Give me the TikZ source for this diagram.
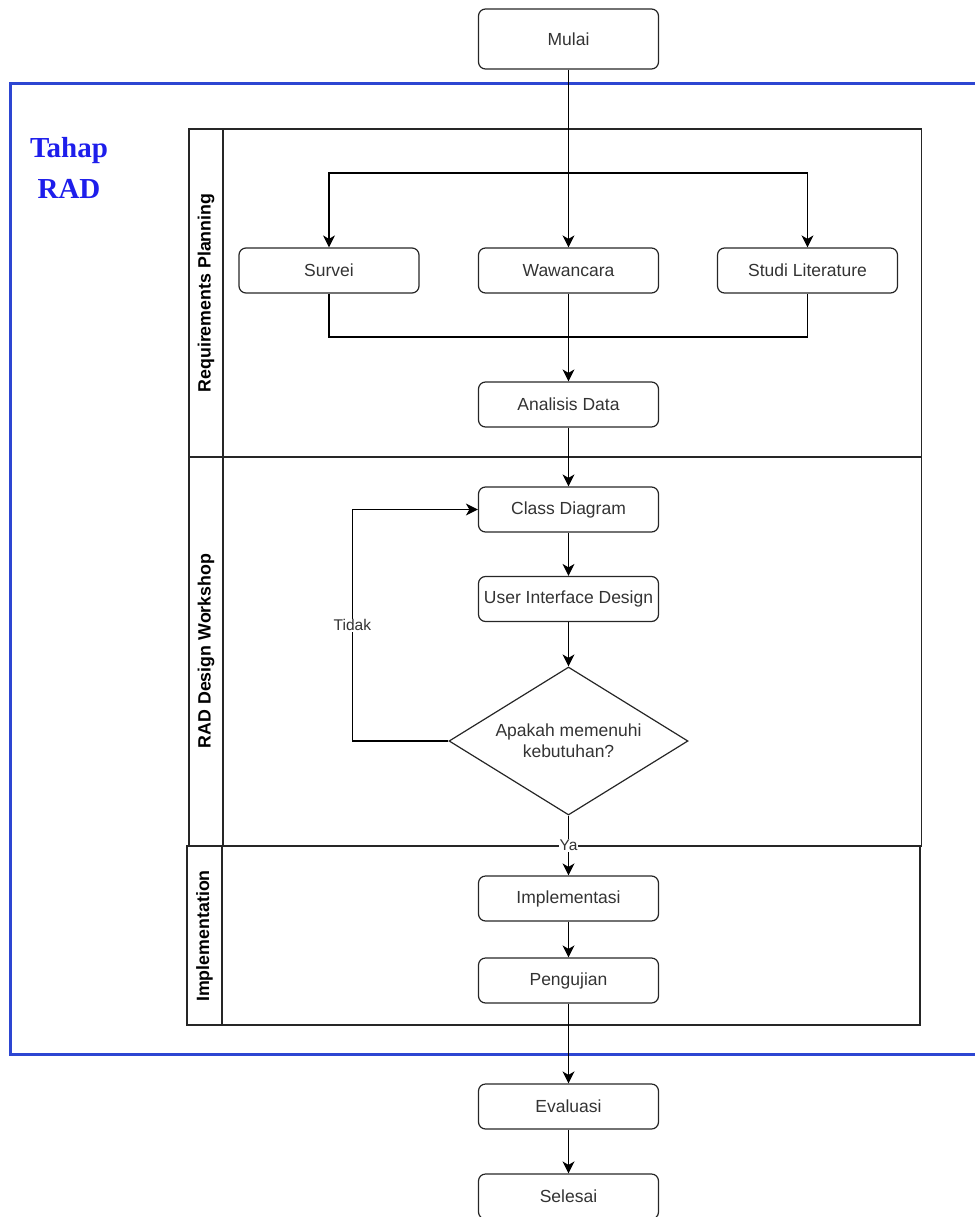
\documentclass[tikz,border=0pt]{standalone}
\usepackage{fontspec}
\setmainfont{Liberation Sans}
\newfontfamily\timesfont{Liberation Serif}
\usetikzlibrary{arrows.meta,shapes.geometric}
\definecolor{txt}{RGB}{51,51,51}
\definecolor{frameblue}{RGB}{45,70,210}
\definecolor{titleblue}{RGB}{30,30,235}
\begin{document}
\begin{tikzpicture}[x=1pt,y=-1pt,
  box/.style={draw=black!85, line width=1.2pt, rounded corners=7pt, minimum width=180pt, minimum height=45pt, inner sep=0pt, font=\fontsize{17.5}{21}\selectfont, text=txt},
  dec/.style={draw=black!85, line width=1.2pt, shape=diamond, aspect=1.615, minimum width=239pt, minimum height=148pt, inner sep=0pt, align=center, font=\fontsize{17.5}{21}\selectfont, text=txt},
  arr/.style={-{Stealth[length=12pt,width=12pt,inset=3.5pt]}, line width=1.3pt},
  ln/.style={line width=1.3pt},
  lane/.style={draw=black!85, line width=1.3pt},
  lanelabel/.style={rotate=90, font=\bfseries\fontsize{17.8}{20}\selectfont, text=black},
  elabel/.style={fill=white, inner sep=1pt, font=\fontsize{15.5}{18}\selectfont, text=txt},
  blueframe/.style={draw=frameblue, line width=3pt}]
\useasboundingbox (0,0) rectangle (974,1217);

% blue frame
\draw[blueframe] (990,84) -- (10,84) -- (10,1054) -- (990,1054);
\node[font=\timesfont\bfseries\fontsize{29}{41}\selectfont, text=titleblue, align=center] (title) at (69,168) {Tahap\\RAD};

% pools / lanes
\draw[lane] (189,129) rectangle (921.5,846);
\draw[lane] (223,129) -- (223,846);
\draw[lane] (189,457) -- (921.5,457);
\draw[lane] (187,846) rectangle (920,1025);
\draw[lane] (222,846) -- (222,1025);
\node[lanelabel] (l1) at (206,293) {Requirements Planning};
\node[lanelabel] (l2) at (206,651) {RAD Design Workshop};
\node[lanelabel] (l3) at (204.5,936) {Implementation};

% nodes
\node[box, minimum height=60pt] (mulai) at (568.5,39) {Mulai};
\node[box] (survei) at (329,270.5) {Survei};
\node[box] (waw) at (568.5,270.5) {Wawancara};
\node[box] (studi) at (807.5,270.5) {Studi Literature};
\node[box] (analisis) at (568.5,404.5) {Analisis Data};
\node[box] (cd) at (568.5,509.5) {Class Diagram};
\node[box] (ui) at (568.5,599) {User Interface Design};
\node[dec] (d) at (568.5,741) {Apakah memenuhi\\kebutuhan?};
\node[box] (impl) at (568.5,898.5) {Implementasi};
\node[box] (peng) at (568.5,980.5) {Pengujian};
\node[box] (eval) at (568.5,1106.5) {Evaluasi};
\node[box] (selesai) at (568.5,1196.5) {Selesai};

% connectors
\coordinate (sp) at (568.5,173);
\coordinate (mg) at (568.5,337);
\draw[arr] (mulai.south) -- (waw.north);
\draw[arr] (sp) -| (survei.north);
\draw[arr] (sp) -| (studi.north);
\draw[ln] (survei.south) |- (mg) -| (studi.south);
\draw[arr] (waw.south) -- (analisis.north);
\draw[arr] (analisis.south) -- (cd.north);
\draw[arr] (cd.south) -- (ui.north);
\draw[arr] (ui.south) -- (d.north);
\draw[arr] (d.west) -- ++(-96,0) |- node[elabel, pos=0.25] {Tidak} (cd.west);
\draw[arr] (d.south) -- node[elabel] {Ya} (impl.north);
\draw[arr] (impl.south) -- (peng.north);
\draw[arr] (peng.south) -- (eval.north);
\draw[arr] (eval.south) -- (selesai.north);
\end{tikzpicture}
\end{document}
